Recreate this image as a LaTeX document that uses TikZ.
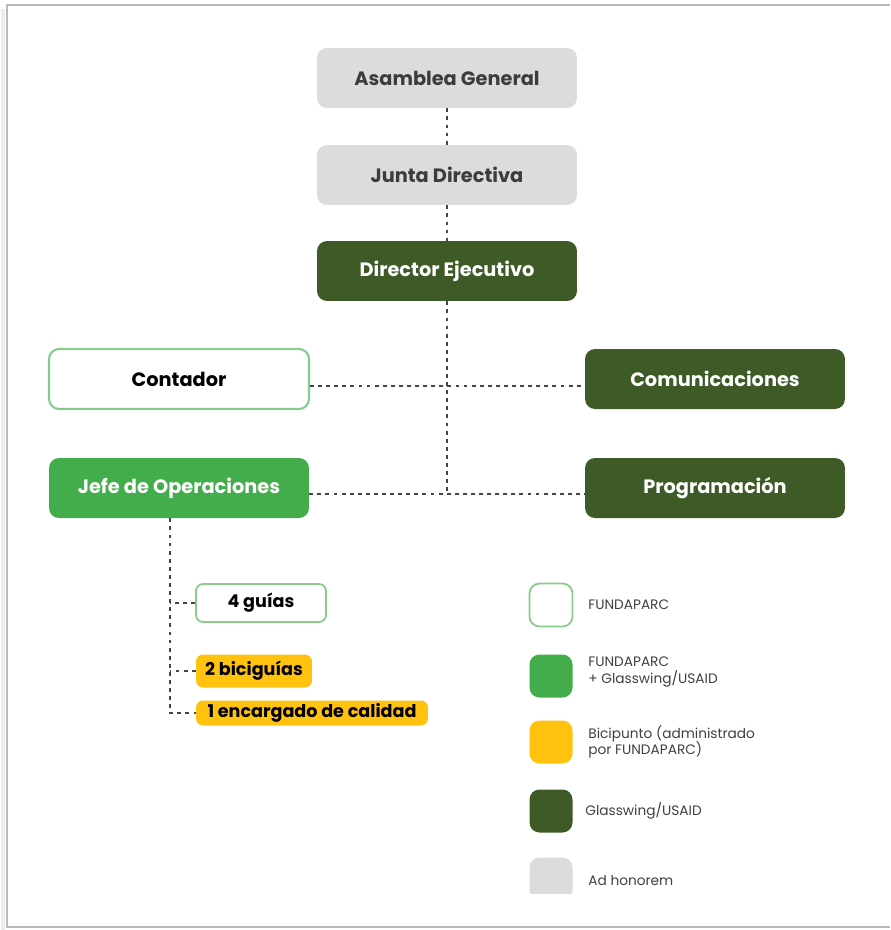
\documentclass[tikz,border=0pt]{standalone}
\usepackage{fontspec}
\setmainfont{Poppins}
\usetikzlibrary{positioning}
\definecolor{dgreen}{HTML}{3D5A27}
\definecolor{mgreen}{HTML}{44AD4B}
\definecolor{lgreen}{HTML}{86CC8B}
\definecolor{bici}{HTML}{FFC20E}
\definecolor{adgray}{HTML}{DCDCDC}
\definecolor{gtxt}{HTML}{3C3C3C}
\definecolor{ltxt}{HTML}{404040}
\definecolor{dash}{HTML}{454545}

\begin{document}
\begin{tikzpicture}[
  x=0.02cm, y=-0.02cm,
  unit/.style={fill=#1, rounded corners=0.2cm, minimum width=5.2cm, minimum height=1.2cm, inner sep=0pt, font=\bfseries\fontsize{11}{13}\selectfont, text=white},
  honor/.style={unit=adgray, text=gtxt},
  fund/.style={unit=white, draw=lgreen, line width=1.2pt, text=black},
  small/.style={rounded corners=0.14cm, inner sep=0pt, minimum height=#1, font=\bfseries\fontsize{10}{12}\selectfont, text=black},
  key/.style={fill=#1, rounded corners=0.2cm, minimum size=0.86cm, inner sep=0pt},
  keytxt/.style={anchor=west, align=left, text=ltxt, inner sep=0pt, font=\fontsize{7.8}{9.4}\selectfont},
  link/.style={draw=dash, line width=1.1pt, dash pattern=on 2.2pt off 2.4pt},
]
\useasboundingbox (0,0) rectangle (890,930);

% frame
\draw[gray!15, line width=2.2pt] (3,9) -- (3,930);
\draw[gray!55, line width=0.8pt] (890,5) -- (7,5) -- (7,927) -- (890,927);

% main chart
\node[honor] (asam) at (447,78) {Asamblea General};
\node[honor] (junta) at (447,175) {Junta Directiva};
\node[unit=dgreen] (dir) at (447,271) {Director Ejecutivo};
\node[fund] (cont) at (179,379) {Contador};
\node[unit=dgreen] (com) at (715,379) {Comunicaciones};
\node[unit=mgreen] (jefe) at (179,488) {Jefe de Operaciones};
\node[unit=dgreen] (prog) at (715,488) {Programación};

\draw[link] (asam) -- (junta);
\draw[link] (junta) -- (dir);
\draw[link] (dir.south) -- ([yshift=-0.12cm]dir.south |- jefe.east);
\draw[link] ([yshift=-0.14cm]cont.east) -- ([yshift=-0.14cm]com.west);
\draw[link] ([yshift=-0.12cm]jefe.east) -- ([yshift=-0.12cm]prog.west);

% operations staff
\node[small=0.76cm, fill=white, draw=lgreen, line width=1pt, minimum width=2.6cm] (guias) at (261,603) {4 guías};
\node[small=0.66cm, fill=bici, minimum width=2.32cm] (bicig) at (254,671) {2 biciguías};
\node[small=0.5cm, fill=bici, minimum width=4.64cm] (calidad) at (312,713) {1 encargado de calidad};

\coordinate (trunk) at ([xshift=-0.18cm]jefe.south);
\draw[link] (trunk) |- (calidad.west);
\draw[link] (guias.west) -- (guias.west -| trunk);
\draw[link] (bicig.west) -- (bicig.west -| trunk);

% legend
\node[key=white, draw=lgreen, line width=1pt] (k1) at (551,605) {};
\node[key=mgreen] (k2) at (551,676) {};
\node[key=bici] (k3) at (551,742) {};
\node[key=dgreen] (k4) at (551,811) {};
\begin{scope}
  \clip (500,840) rectangle (600,893);
  \node[key=adgray] (k5) at (551,879) {};
\end{scope}

\node[keytxt] at (588,605) {FUNDAPARC};
\node[keytxt] at (588,672) {FUNDAPARC\\+ Glasswing/USAID};
\node[keytxt] at (588,742) {Bicipunto (administrado\\por FUNDAPARC)};
\node[keytxt] at (585,811) {Glasswing/USAID};
\node[keytxt] at (588,880) {Ad honorem};

\end{tikzpicture}
\end{document}
